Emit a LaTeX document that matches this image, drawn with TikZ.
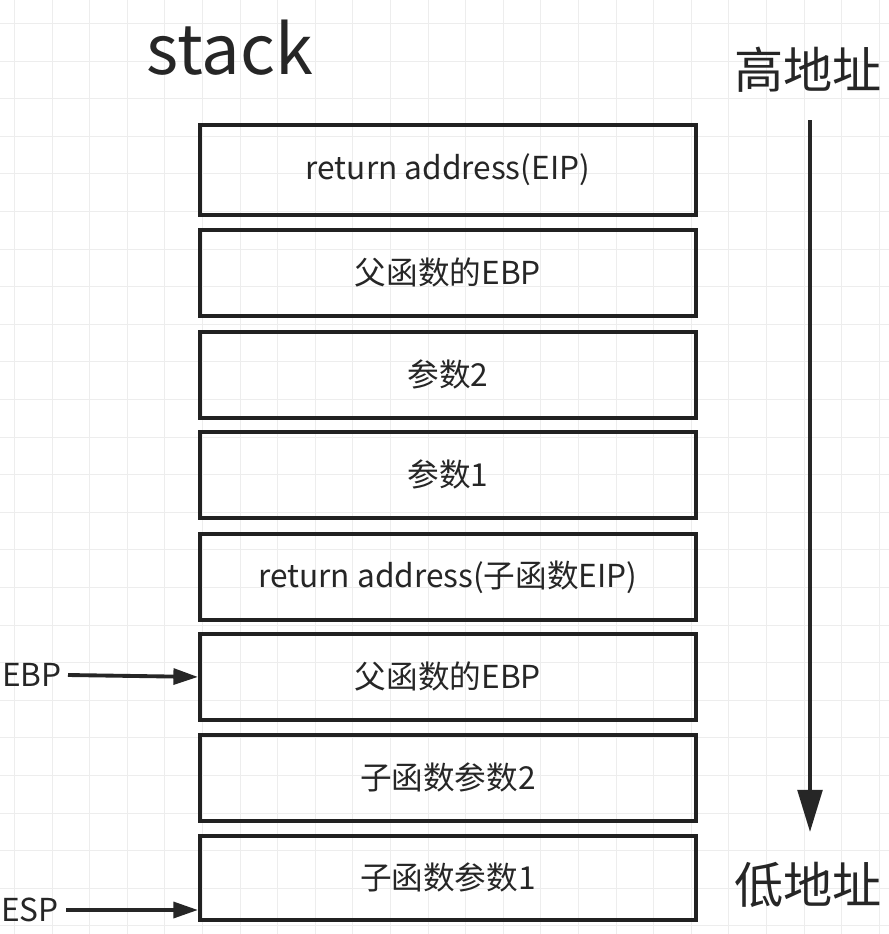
\documentclass[tikz,border=0pt]{standalone}
\usepackage{fontspec}
\setmainfont{Noto Sans CJK SC}
\usetikzlibrary{arrows.meta}
\begin{document}
\begin{tikzpicture}[x=0.02cm,y=-0.02cm,
  cell/.style={draw=black!87,line width=2.2pt,minimum width=9.92cm,minimum height=1.72cm,anchor=north west,inner sep=0pt,font=\fontsize{18}{21}\selectfont,text=black!85},
  lab/.style={font=\fontsize{18}{21}\selectfont,text=black!85},
  big/.style={font=\fontsize{28}{32}\selectfont,text=black!85},
  ptr/.style={draw=black!85,line width=2.2pt,-{Triangle[length=14pt,width=9pt]}}]
\useasboundingbox (0,0) rectangle (889,934);
\fill[white] (0,0) rectangle (889,934);
\foreach \i in {0,...,23} {\draw[black!7,line width=0.6pt] (14.5+37.6*\i,0) -- (14.5+37.6*\i,934);}
\foreach \i in {0,...,24} {\draw[black!7,line width=0.6pt] (0,23.5+37.6*\i) -- (889,23.5+37.6*\i);}
\node[font=\fontsize{39}{44}\selectfont,text=black!85] (title) at (230,48) {stack};
\node[cell,minimum height=1.8cm] (c1) at (198,123) {return address(EIP)};
\node[cell] (c2) at (198,228) {父函数的EBP};
\node[cell] (c3) at (198,330) {参数2};
\node[cell] (c4) at (198,430) {参数1};
\node[cell] (c5) at (198,532) {return address(子函数EIP)};
\node[cell] (c6) at (198,632) {父函数的EBP};
\node[cell] (c7) at (198,733) {子函数参数2};
\node[cell,minimum height=1.68cm] (c8) at (198,834) {子函数参数1};
\node[big] (hi) at (808,70) {高地址};
\node[big] (lo) at (808,885) {低地址};
\coordinate (a1) at (810,120);
\coordinate (a2) at (810,832);
\draw[draw=black!85,line width=2.2pt,-{Triangle[length=24pt,width=14pt]}] (a1) -- (a2);
\node[lab] (ebp) at (32,675) {EBP};
\node[lab] (esp) at (30,910) {ESP};
\coordinate (e1) at (68,675);
\draw[ptr] (e1) -- (c6.west);
\coordinate (e2) at (66,910);
\draw[ptr] (e2) -- (198,910);
\end{tikzpicture}
\end{document}
